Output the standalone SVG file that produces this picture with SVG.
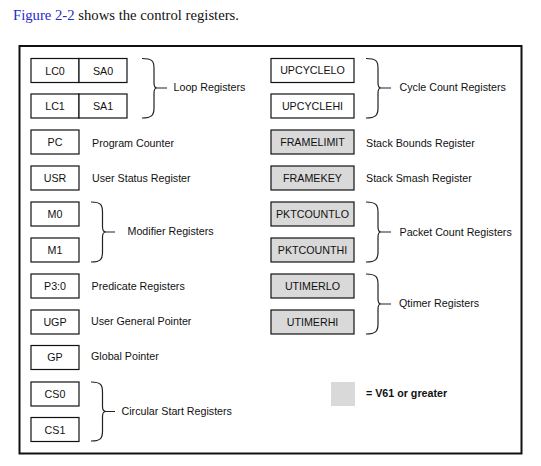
<svg xmlns="http://www.w3.org/2000/svg" width="541" height="466" viewBox="0 0 541 466">
<style>
.t{font-family:"Liberation Sans",Arial,sans-serif;font-size:10.7px;fill:#111}
.c{text-anchor:middle}
.b{fill:#fff;stroke:#111;stroke-width:1.2}
.g{fill:#d9d9d9;stroke:#111;stroke-width:1.2}
.br{fill:none;stroke:#222;stroke-width:1.2}
</style>
<rect width="541" height="466" fill="#fff"/>
<text x="13" y="20" style="font-family:'Liberation Serif','Times New Roman',serif;font-size:14.7px;fill:#111"><tspan fill="#2828c8">Figure 2-2</tspan> shows the control registers.</text>
<rect x="19.5" y="46" width="502" height="407.5" fill="none" stroke="#111" stroke-width="2"/>

<g id="lc0"><rect class="b" x="31" y="58.5" width="48" height="24"/><rect class="b" x="79" y="58.5" width="48" height="24"/><text class="t c" x="55" y="74.5">LC0</text><text class="t c" x="103" y="74.5">SA0</text></g>
<g id="lc1"><rect class="b" x="31" y="94" width="48" height="24"/><rect class="b" x="79" y="94" width="48" height="24"/><text class="t c" x="55" y="110">LC1</text><text class="t c" x="103" y="110">SA1</text></g>
<g id="pc"><rect class="b" x="31" y="130" width="48" height="24"/><text class="t c" x="55" y="146">PC</text><text class="t" x="92" y="146.5">Program Counter</text></g>
<g id="usr"><rect class="b" x="31" y="166" width="48" height="24"/><text class="t c" x="55" y="182">USR</text><text class="t" x="92" y="182">User Status Register</text></g>
<g id="m0"><rect class="b" x="31" y="202" width="48" height="24"/><text class="t c" x="55" y="218">M0</text></g>
<g id="m1"><rect class="b" x="31" y="238" width="48" height="24"/><text class="t c" x="55" y="254">M1</text></g>
<g id="p30"><rect class="b" x="31" y="274" width="48" height="24"/><text class="t c" x="55" y="290">P3:0</text><text class="t" x="91.5" y="290">Predicate Registers</text></g>
<g id="ugp"><rect class="b" x="31" y="310" width="48" height="24"/><text class="t c" x="55" y="326">UGP</text><text class="t" x="91" y="324.5">User General Pointer</text></g>
<g id="gp"><rect class="b" x="31" y="345.5" width="48" height="24"/><text class="t c" x="55" y="361">GP</text><text class="t" x="91" y="359.5">Global Pointer</text></g>
<g id="cs0"><rect class="b" x="31" y="382" width="48" height="24"/><text class="t c" x="55" y="398">CS0</text></g>
<g id="cs1"><rect class="b" x="31" y="417.5" width="48" height="24"/><text class="t c" x="55" y="433.5">CS1</text></g>

<g id="upcyclelo"><rect class="b" x="271" y="58.5" width="83" height="24"/><text class="t c" x="312.5" y="74">UPCYCLELO</text></g>
<g id="upcyclehi"><rect class="b" x="271" y="94" width="83" height="24"/><text class="t c" x="312.5" y="110">UPCYCLEHI</text></g>
<g id="framelimit"><rect class="g" x="271" y="130" width="83" height="24"/><text class="t c" x="312.5" y="146">FRAMELIMIT</text><text class="t" x="366" y="146.5">Stack Bounds Register</text></g>
<g id="framekey"><rect class="g" x="271" y="166" width="83" height="24"/><text class="t c" x="312.5" y="182">FRAMEKEY</text><text class="t" x="366" y="182">Stack Smash Register</text></g>
<g id="pktcountlo"><rect class="g" x="271" y="202" width="83" height="24"/><text class="t c" x="312.5" y="218">PKTCOUNTLO</text></g>
<g id="pktcounthi"><rect class="g" x="271" y="238" width="83" height="24"/><text class="t c" x="312.5" y="254">PKTCOUNTHI</text></g>
<g id="utimerlo"><rect class="g" x="271" y="274" width="83" height="24"/><text class="t c" x="312.5" y="290">UTIMERLO</text></g>
<g id="utimerhi"><rect class="g" x="271" y="310" width="83" height="24"/><text class="t c" x="312.5" y="326">UTIMERHI</text></g>

<g id="legend"><rect x="331" y="382" width="24" height="24" fill="#d9d9d9"/><text class="t" x="366" y="397" style="font-weight:bold">=  V61 or greater</text></g>

<g id="connectors">
<path class="br" d="M142,58.5 C152,58.5 154,61 154,68 L154,83 C154,86 155,88 157,88 L167,88 M157,88 C155,88 154,90 154,93 L154,108 C154,115 152,118 142,118"/>
<path class="br" d="M366,58.5 C376,58.5 378,61 378,68 L378,83 C378,86 379,88 381,88 L391,88 M381,88 C379,88 378,90 378,93 L378,108 C378,115 376,118 366,118"/>
<path class="br" d="M91,202 C101,202 102.5,205 102.5,212 L102.5,227 C102.5,230 104,232 106,232 L115,232 M106,232 C104,232 102.5,234 102.5,237 L102.5,252 C102.5,259 101,262 91,262"/>
<path class="br" d="M366,202 C376,202 378,205 378,212 L378,227 C378,230 379,232 381,232 L391,232 M381,232 C379,232 378,234 378,237 L378,252 C378,259 376,262 366,262"/>
<path class="br" d="M366,274 C376,274 378,277 378,284 L378,299 C378,302 379,304 381,304 L391,304 M381,304 C379,304 378,306 378,309 L378,324 C378,331 376,334 366,334"/>
<path class="br" d="M91,382 C101,382 102.5,385 102.5,392 L102.5,406.5 C102.5,409.5 104,411.5 106,411.5 L115,411.5 M106,411.5 C104,411.5 102.5,413.5 102.5,416.5 L102.5,431 C102.5,438 101,441 91,441"/>
</g>
<text class="t" x="173.5" y="91">Loop Registers</text>
<text class="t" x="399.5" y="91">Cycle Count Registers</text>
<text class="t" x="127.5" y="235">Modifier Registers</text>
<text class="t" x="399.5" y="235.5">Packet Count Registers</text>
<text class="t" x="399" y="306.5">Qtimer Registers</text>
<text class="t" x="121.5" y="414.5">Circular Start Registers</text>
</svg>
